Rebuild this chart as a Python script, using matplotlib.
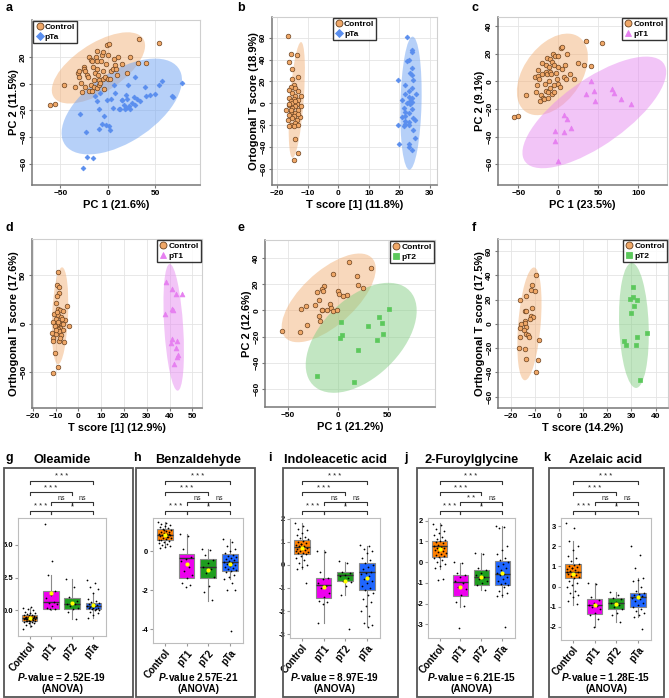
import matplotlib
matplotlib.use('Agg')
import matplotlib.pyplot as plt
import matplotlib.transforms as mtransforms
from matplotlib.patches import Ellipse, Rectangle
from matplotlib.lines import Line2D

plt.rcParams['font.family'] = 'Liberation Sans'
plt.rcParams['font.weight'] = 'bold'
plt.rcParams['mathtext.fontset'] = 'custom'
plt.rcParams['mathtext.it'] = 'Liberation Sans:italic:bold'
plt.rcParams['mathtext.rm'] = 'Liberation Sans:bold'

W, H = 669, 698

# ---------------- score plots data ----------------
# a : PCA Control vs pTa
a_ctrl_x = [-61, -56, -46, -35, -32, -30, -30, -28, -27, -25, -25, -24, -24, -22, -21, -20, -20, -18, -18, -17,
            -17, -16, -15, -15, -14, -13, -12, -12, -11, -11, -10, -9, -9, -8, -7, -6, -5, -5, -5, -4,
            -3, -2, -1, 0, 0, 1, 2, 3, 5, 6, 7, 8, 10, 11, 15, 20, 23, 32, 33, 40, 54]
a_ctrl_y = [-16, -15, -1, -2, 8, 5, 10, 1, -6, 13, 11, 10, -2, 7, 5, -5, 20, 18, -1, 17,
            -5, 13, 3, -2, 8, 20, 11, -3, 17, 25, 7, 3, -1, 1, 17, 22, 10, 4, 24, -4,
            5, 15, 29, 4, 22, 30, 4, 10, 11, 19, 14, 11, 7, 20, 15, 8, 20, 16, 34, 16, 31]
a_pta_x = [-29, -23.5, -22.5, -15.4, -26, -14, -9, -8, -9, -6, -4, -2, 1, 2, -1, 3, 6, 7, 5, 12,
           13, 15, 17, 18, 19, 20, 21, 23, 25, 27, 29, 31, 34, 39, 40, 44, 50, 54, 57, 68,
           69, 78, -12, 15, 19, 22, 28]
a_pta_y = [-23, -36, -55, -56, -63, -9, -19, -7, -34, -30, -24, -31, -32, -35, -12, -11, -1, -7, -18, -19,
           -19, -12, -16, -19, -8, -11, -1, -19, -14, -10, 5, -11, -13, -2, -9, -8, -7.5, -1, 2, -9,
           -10, 1, -13, -12, -18, -17, -16]

# b : OPLS-DA Control vs pTa
b_ctrl_x = [-16.5, -15.5, -13.5, -16, -15, -13, -15, -14.5, -15.5, -14, -16, -13, -15, -14, -12, -16, -14.5, -13,
            -15.5, -14, -15, -13.5, -16, -14, -15, -12, -17, -13, -15.5, -14, -16, -14.5, -12.5, -15, -16.5,
            -13.5, -14, -15.5, -13, -14.5, -16, -14, -13, -14.5, -15.5, -14, -13, -16]
b_ctrl_y = [62, 45, 44, 38, 31, 24, 22, 17, 15, 14, 12, 11, 9, 7, 7, 5, 4, 3,
            2, 1, 0, -1, -2, -3, -4, -3, -6, -6, -8, -9, -11, -12, -13, -14, -15,
            -15, -18, -20, -20, -21, -21, -33, -46, -52, -6, 2, -10, -1]
b_pta_x = [22.5, 24, 24, 23, 22.5, 24, 23.5, 24, 19.5, 24.5, 22, 24, 23, 25.5, 22, 23, 24, 23.5, 21, 24, 22.5,
           23.5, 21.5, 24, 22, 23, 21, 24.5, 25, 22, 23, 19.5, 22, 21.5, 24.5, 23, 25, 20, 23, 23, 24, 22]
b_pta_y = [61, 49, 47, 40, 39, 32, 28, 26, 21, 21, 17, 14, 11, 8, 8, 6, 5, 2, 3, 1, 0,
           -1, -4, -5, -8, -9, -13, -14, -15, -16, -17, -20, -19, -21, -25, -20, -32, -37, -37, -40, -43, -12]

# c : PCA Control vs pT1
c_ctrl_x = [-55, -50, -40, -29, -28, -27, -25, -25, -24, -23, -22, -21, -20, -19, -18, -17, -16, -16, -15, -14,
            -14, -13, -13, -12, -12, -11, -10, -10, -9, -8, -8, -7, -6, -5, -5, -4, -3, -2, -1, 0,
            0, 2, 3, 5, 5, 7, 8, 10, 11, 15, 20, 25, 32, 34, 41, 54]
c_ctrl_y = [-26, -25, -10, 3, -8, -3, 8, 4, 2, -14, -10, 5, 13, -12, -13, -2, 12, 7, -7, 17,
            5, -8, -12, 10, 0, 16, -5, 7, 5, -9, 14, 20, -3, 12, -8, 18, 6, 2, -2, 10,
            18, -4, 24, 25, 9, 3, 12, 2, 20, 5, 2, 13, 12, 29, 11, 28]
c_pt1_x = [41, 35, 44.6, 46, 67, 70, 79, 90.9, 7, 11, 16, -3.7, 7, -4, -1]
c_pt1_y = [0, -9.5, -7, -14, -5.5, -8.7, -12.8, -16.5, -24.5, -27, -34, -36, -37, -43, -58]

# d : OPLS-DA Control vs pT1
d_ctrl_x = [-9.1, -9.4, -8.4, -8.4, -9.5, -9.8, -4.8, -9.1, -8, -6.5, -10.6, -8.8, -7.4, -9.8, -5.8, -10.9,
            -8.4, -9.4, -6.9, -4.3, -10.3, -8, -9.1, -6.5, -11.6, -9.8, -7.7, -10.9, -6.2, -11.3, -8.4,
            -10.1, -8.7, -11, -8.5, -9, -7, -10, -8, -9.5]
d_ctrl_y = [53.8, 40, 37.5, 32, 28.5, 21.5, 18.4, 15.6, 13.9, 13.2, 10.4, 8.7, 7, 4.2, 3.5, 1.7,
            0.7, -0.7, -0.7, -2.8, -2.8, -4.2, -5.9, -6.9, -10.4, -11.1, -12.2, -14.6, -19.1, -18, -18,
            -30.6, -45, -51.4, -8, 2, 5, -7, -15, 12]
d_pt1_x = [38.5, 41.2, 42.7, 45.5, 41.1, 41.4, 38.1, 41, 43.1, 40.5, 42.8, 43.6, 43.3, 41.8]
d_pt1_y = [43.4, 35.8, 30.6, 30.6, 14.9, 13.9, 9.4, -16, -18, -20.8, -25.7, -32.3, -35.4, -42.4]

# e : PCA Control vs pT2
e_ctrl_x = [11.3, 33, -4.3, 19, 20, -13.3, -16, 25, -20.7, -15, 0, 1.3, 9, 5.7, -18.3, -7.7, -22.7, -31.7,
            -36.7, -16, -15.3, -10.3, -6.7, -4.3, -0.7, -18.7, -17.7, -31, -55.3, -37.7]
e_ctrl_y = [37.4, 32.3, 27.9, 26.3, 19.4, 18.6, 16.3, 17.3, 14.2, 15, 15, 12.9, 12.1, 11.1, 7.7, 5.2, 4.6, 3.1,
            1, 0.5, 0.5, 0.5, 1.8, -0.5, 0.5, -3.9, -7.7, -11.1, -15.5, -16.8]
e_pt2_x = [51.7, 41.7, 44, 3.7, 30.7, 45, 4.7, 2.3, 39, 20.7, -20.7, 16.7]
e_pt2_y = [1.3, -5.2, -9.5, -9, -11.9, -17.8, -18.8, -21.2, -22.5, -30.2, -50.6, -55.2]

# f : OPLS-DA Control vs pT2
f_ctrl_x = [-9.4, -11.3, -11.7, -9.9, -13.7, -15.9, -14.2, -13.5, -11, -11.6, -10.8, -12, -14.2, -14.2,
            -15.6, -15.9, -13.5, -14.3, -13.5, -12.7, -12.4, -16.1, -8.1, -16.6, -14.2, -8.8, -13.7, -9.5]
f_ctrl_y = [40.3, 32.3, 28.2, 26.8, 23.3, 19.5, 10.4, 10.4, 12.9, 6.3, 5.5, 3.6, 2.2, 0.8,
            -0.3, -3.8, -2.5, -5.2, -8.2, -9.3, -10.7, -10.7, -13.7, -19.7, -21.1, -29.6, -29.3, -39.5]
f_pt2_x = [30.5, 30.8, 29.2, 32.1, 30.9, 29.9, 36.6, 32.1, 26.9, 27.9, 31.7, 33.7]
f_pt2_y = [30.1, 22.2, 20.5, 20, 14.5, 9, -7.4, -10.7, -14.2, -17, -17.5, -46.3]

# 95% confidence ellipses: centre x, centre y, major, minor, angle
a_ell = {'Control': (-10, 12, 104.8, 39.2, 22), 'pTa': (14.6, -17, 134.4, 56.6, 21.4)}
b_ell = {'Control': (-13.5, 3, 106, 4.5, 88.5), 'pTa': (23.8, 0, 122, 6.9, 89.5)}
c_ell = {'Control': (-7.5, 5, 94, 50.6, 22.5), 'pT1': (45, -22.5, 190, 53, 19.5)}
d_ell = {'Control': (-8, 8, 101, 7, 89), 'pT1': (41.8, -4, 132, 8.3, 91.5)}
e_ell = {'Control': (-9, 9.7, 107, 45.4, 31.7), 'pT2': (23.5, -21, 122.6, 66.6, 30.4)}
f_ell = {'Control': (-12.2, 0, 93, 9.3, 87.7), 'pT2': (31, -1.3, 103, 12.2, 91)}

# ---------------- box plots data ----------------
groups = ['Control', 'pT1', 'pT2', 'pTa']

g_ctrl = [-1.45, -1.2, -1.1, -1.0, -0.95, -0.9, -0.9, -0.85, -0.85, -0.8, -0.8, -0.75, -0.75, -0.7, -0.7, -0.65,
          -0.65, -0.6, -0.6, -0.6, -0.55, -0.55, -0.5, -0.5, -0.45, -0.4, -0.4, -0.35, -0.3, -0.25, -0.2, -0.1,
          0.0, 0.1, 0.2, 0.25, -0.7, -0.5, -0.8, -0.6]
g_pt1 = [6.6, 3.8, 2.7, 1.5, 1.2, 0.9, 0.65, 0.55, 0.5, 0.3, 0.15, 0.1, 0.1]
g_pt2 = [2.35, 1.75, 1.0, 0.7, 0.6, 0.5, 0.45, 0.35, 0.2, 0.1, -0.15, -0.65]
g_pta = [2.3, 2.1, 1.8, 1.6, 1.3, 0.85, 0.7, 0.6, 0.55, 0.5, 0.45, 0.4, 0.35, 0.3, 0.3, 0.25, 0.2, 0.2, 0.15,
         0.1, 0.1, 0.05, 0.0, -0.1, -0.2, -0.35, -0.6]
g_med = [-0.6, 0.6, 0.45, 0.3]
g_q1 = [-0.85, 0.1, 0.1, 0.1]
g_q3 = [-0.35, 1.5, 0.9, 0.55]
g_lo = [-1.3, 0.05, -0.65, -0.6]
g_hi = [0.2, 2.7, 2.35, 1.3]
g_mean = [-0.6, 1.3, 0.55, 0.38]

h_ctrl = [1.5, 1.45, 1.4, 1.35, 1.3, 1.25, 1.2, 1.15, 1.1, 1.05, 1.0, 1.0, 0.95, 0.9, 0.9, 0.85, 0.85, 0.8, 0.8,
          0.75, 0.7, 0.7, 0.65, 0.6, 0.55, 0.5, 0.45, 0.4, 0.35, 0.3, 0.25, 0.2, 0.9, 1.1, 0.6, 0.75]
h_pt1 = [0.9, 0.8, 0.1, -0.3, -0.4, -0.5, -0.8, -1.0, -1.2, -1.35, -1.6, -1.75, -1.85]
h_pt2 = [0.1, 0.05, -0.2, -0.45, -0.6, -0.8, -0.9, -1.1, -1.3, -1.8, -2.1, -2.5]
h_pta = [0.65, 0.5, 0.3, 0.15, 0.0, -0.1, -0.2, -0.25, -0.3, -0.35, -0.4, -0.45, -0.5, -0.55, -0.6, -0.65, -0.7,
         -0.75, -0.8, -0.85, -0.9, -0.95, -1.0, -1.05, -1.2, -1.3, -1.4, -1.6, -2.0, -2.0, -4.1]
h_med = [0.86, -0.34, -0.81, -0.55]
h_q1 = [0.6, -1.38, -1.38, -1.0]
h_q3 = [1.16, -0.14, -0.4, -0.14]
h_lo = [0.26, -1.38, -2.53, -1.43]
h_hi = [1.5, 0.9, 0.12, 0.64]
h_mean = [0.86, -0.64, -0.95, -0.64]

i_ctrl = [1.8, 1.7, 1.55, 1.5, 1.4, 1.3, 1.2, 1.15, 1.1, 1.05, 1.0, 0.95, 0.9, 0.85, 0.8, 0.8, 0.75, 0.7, 0.7,
          0.65, 0.6, 0.55, 0.5, 0.5, 0.45, 0.4, 0.3, 0.2, 0.1, 0.0, -0.1, -0.2, -0.8, 0.9, 0.6]
i_pt1 = [0.6, 0.55, -0.3, -0.55, -0.6, -0.8, -0.9, -1.0, -1.2, -1.4, -1.55, -1.6, -1.7, -2.5]
i_pt2 = [0.15, 0.1, -0.3, -0.35, -0.45, -0.5, -0.55, -0.7, -0.75, -0.9, -1.3, -2.8]
i_pta = [0.85, 0.8, 0.7, 0.6, 0.5, 0.3, 0.2, 0.1, 0.0, -0.1, -0.2, -0.3, -0.35, -0.4, -0.5, -0.6, -0.7, -0.8,
         -0.9, -1.0, -1.1, -1.2, -1.3, -1.5, -1.6, -1.8, -2.0, -2.2, -2.5, -2.6, -2.7]
i_med = [0.79, -0.87, -0.46, -0.33]
i_q1 = [0.46, -1.45, -0.69, -1.08]
i_q3 = [1.08, -0.58, -0.33, 0.07]
i_lo = [-0.19, -2.53, -1.3, -2.67]
i_hi = [1.83, 0.65, 0.13, 0.8]
i_mean = [0.72, -0.94, -0.72, -0.58]

j_ctrl = [1.85, 1.8, 1.6, 1.5, 1.4, 1.3, 1.2, 1.1, 1.05, 1.0, 0.95, 0.9, 0.85, 0.8, 0.75, 0.7, 0.7, 0.65, 0.6,
          0.55, 0.5, 0.45, 0.4, 0.35, 0.3, 0.25, 0.2, 0.1, 0.0, -0.1, -0.2, -0.3, -0.8, -0.85]
j_pt1 = [0.0, -0.05, -0.5, -0.6, -0.7, -0.9, -1.0, -1.2, -1.3, -1.6, -1.9, -2.1, -3.2]
j_pt2 = [0.45, 0.4, -0.3, -0.4, -0.5, -0.6, -0.7, -0.8, -0.9, -1.0, -1.1, -1.35]
j_pta = [1.75, 1.7, 1.65, 0.8, 0.6, 0.4, 0.2, 0.1, 0.0, -0.1, -0.2, -0.3, -0.4, -0.5, -0.55, -0.6, -0.7, -0.8,
         -0.9, -1.0, -1.05, -1.1, -1.2, -1.4, -1.5, -1.6, -1.65, -3.15]
j_med = [0.76, -0.94, -0.7, -0.58]
j_q1 = [0.23, -1.63, -1.1, -1.1]
j_q3 = [1.0, -0.61, -0.37, 0.06]
j_lo = [-0.32, -2.15, -1.34, -1.67]
j_hi = [1.89, -0.05, 0.44, 1.76]
j_mean = [0.65, -1.18, -0.7, -0.5]

k_ctrl = [3.15, 2.9, 2.25, 2.0, 1.8, 1.5, 1.4, 1.25, 1.1, 1.05, 1.0, 0.95, 0.9, 0.85, 0.8, 0.75, 0.7, 0.65, 0.6,
          0.55, 0.5, 0.45, 0.4, 0.3, 0.2, 0.1, 0.0, -0.2, -0.3, -0.4, -0.5, -0.7, -0.85, 0.9, 0.7]
k_pt1 = [0.2, 0.15, -0.5, -0.65, -0.8, -0.9, -0.95, -1.0, -1.1, -1.3, -1.4, -1.6, -2.0]
k_pt2 = [-0.25, -0.4, -0.55, -0.6, -0.75, -0.8, -0.9, -1.0, -1.1, -1.3, -1.4, -1.75]
k_pta = [2.0, 1.55, 0.9, 0.4, 0.35, 0.3, 0.0, -0.2, -0.3, -0.35, -0.4, -0.45, -0.5, -0.55, -0.6, -0.7, -0.8,
         -0.9, -1.0, -1.1, -1.2, -1.3, -1.4, -1.5, -2.1]
k_med = [0.7, -0.92, -0.83, -0.53]
k_q1 = [0.42, -1.38, -1.12, -1.0]
k_q3 = [1.12, -0.63, -0.55, -0.33]
k_lo = [-0.92, -2.0, -1.75, -1.5]
k_hi = [2.25, 0.17, -0.28, 0.42]
k_mean = [0.63, -0.92, -0.87, -0.5]

# significance labels: Ctrl-pTa, Ctrl-pT2, pT1-pT2, pT2-pTa, Ctrl-pT1, pT1-pTa
sig_default = ['* * *', '* * *', 'ns', 'ns', '* * *', '*']
sig_j = ['* * *', '* * *', '* *', 'ns', '* * *', '*']

STYLE = {
    'Control': dict(marker='o', face='#F0A868', edge='#6B4220', s=11, ell='#F2B27A'),
    'pTa': dict(marker='D', face='#5A8EEE', edge='#5A8EEE', s=6, ell='#6FA3F2'),
    'pT1': dict(marker='^', face='#E680F0', edge='#E680F0', s=12, ell='#E68CF0'),
    'pT2': dict(marker='s', face='#5CC85C', edge='#5CC85C', s=7, ell='#86CF86'),
}
BOX_COL = ['#FF8000', '#EE00EE', '#1F9E1F', '#1F66FF']

fig = plt.figure(figsize=(W / 100, H / 100), dpi=100)


def px_axes(x1, y1, x2, y2):
    return fig.add_axes([x1 / W, 1 - y2 / H, (x2 - x1) / W, (y2 - y1) / H])


def letter(x, y, s):
    fig.text(x / W, 1 - y / H, s, fontsize=9, fontweight='bold', va='top', ha='left')


def scatter_panel(box, lab, lxy, xlim, ylim, xticks, yticks, xlabel, ylabel, data, ells, loc):
    ax = px_axes(*box)
    for name, xs, ys in data:
        cx, cy, wd, ht, ang = ells[name]
        ax.add_patch(Ellipse((cx, cy), wd, ht, angle=ang, facecolor=STYLE[name]['ell'],
                             edgecolor='none', alpha=0.5, zorder=1))
    handles = []
    for name, xs, ys in data:
        st = STYLE[name]
        ax.scatter(xs, ys, s=st['s'], marker=st['marker'], facecolor=st['face'],
                   edgecolor=st['edge'], linewidths=0.5, zorder=3)
        handles.append(Line2D([], [], ls='none', marker=st['marker'], markersize=5 if name == 'Control' else 4.5,
                              markerfacecolor=st['face'], markeredgecolor=st['edge'], markeredgewidth=0.6,
                              label=name))
    ax.set_xlim(*xlim)
    ax.set_ylim(*ylim)
    ax.set_xticks(xticks)
    ax.set_yticks(yticks)
    ax.tick_params(labelsize=6, length=2, color='#777', pad=1.5)
    for t in ax.get_yticklabels():
        t.set_rotation(90)
        t.set_va('center')
    for t in ax.get_xticklabels() + ax.get_yticklabels():
        t.set_fontweight('bold')
    ax.grid(True, color='#e4e4e4', lw=0.6, zorder=0)
    ax.set_axisbelow(True)
    for side in ['top', 'right']:
        ax.spines[side].set_color('#cfcfcf')
    for side in ['left', 'bottom']:
        ax.spines[side].set_color('#777')
        ax.spines[side].set_linewidth(1.1)
    ax.set_xlabel(xlabel, fontsize=8, fontweight='bold', labelpad=2)
    ax.set_ylabel(ylabel, fontsize=8, fontweight='bold', labelpad=1)
    leg = ax.legend(handles=handles, loc=loc, fontsize=6, frameon=True, fancybox=False,
                    edgecolor='black', borderaxespad=0.15, handletextpad=0.1, labelspacing=0.25,
                    borderpad=0.25, handlelength=1.0, prop={'weight': 'bold', 'size': 6})
    leg.get_frame().set_linewidth(1.0)
    letter(*lxy, lab)
    return ax


scatter_panel((32, 20, 200, 185), 'a', (6, 2), (-80, 97), (-76, 48), [-50, 0, 50], [-60, -40, -20, 0, 20],
              'PC 1 (21.6%)', 'PC 2 (11.5%)',
              [('Control', a_ctrl_x, a_ctrl_y), ('pTa', a_pta_x, a_pta_y)], a_ell, 'upper left')
scatter_panel((272, 17, 437, 185), 'b', (237, 2), (-21.6, 32.3), (-75, 79), [-20, -10, 0, 10, 20, 30],
              [-60, -40, -20, 0, 20, 40, 60], 'T score [1] (11.8%)', 'Ortogonal T score (18.9%)',
              [('Control', b_ctrl_x, b_ctrl_y), ('pTa', b_pta_x, b_pta_y)], b_ell, 'upper center')
scatter_panel((498, 17, 667, 185), 'c', (472, 2), (-75.6, 136), (-75, 46.5), [-50, 0, 50, 100],
              [-60, -40, -20, 0, 20, 40], 'PC 1 (23.5%)', 'PC 2 (9.1%)',
              [('Control', c_ctrl_x, c_ctrl_y), ('pT1', c_pt1_x, c_pt1_y)], c_ell, 'upper right')
scatter_panel((32, 239, 202, 408), 'd', (6, 222), (-20.3, 54.2), (-88, 88), [-20, -10, 0, 10, 20, 30, 40, 50],
              [-50, 0, 50], 'T score [1] (12.9%)', 'Orthogonal T score (17.6%)',
              [('Control', d_ctrl_x, d_ctrl_y), ('pT1', d_pt1_x, d_pt1_y)], d_ell, 'upper right')
scatter_panel((265, 240, 435, 407), 'e', (237, 222), (-72.7, 97.3), (-74.2, 54.2), [-50, 0, 50],
              [-60, -40, -20, 0, 20, 40], 'PC 1 (21.2%)', 'PC 2 (12.6%)',
              [('Control', e_ctrl_x, e_ctrl_y), ('pT2', e_pt2_x, e_pt2_y)], e_ell, 'upper right')
scatter_panel((498, 239, 668, 408), 'f', (472, 222), (-25.2, 45.1), (-69.3, 69.9), [-20, -10, 0, 10, 20, 30, 40],
              [-60, -40, -20, 0, 20, 40, 60], 'T score (14.2%)', 'Orthogonal T score (17.5%)',
              [('Control', f_ctrl_x, f_ctrl_y), ('pT2', f_pt2_x, f_pt2_y)], f_ell, 'upper right')


def box_panel(frame, inner, lab, lx, title, ylim, yticks, yticklabels, vals, med, q1, q3, lo, hi, mean,
              sig, pval):
    fx1, fy1, fx2, fy2 = frame
    fig.patches.append(Rectangle((fx1 / W, 1 - fy2 / H), (fx2 - fx1) / W, (fy2 - fy1) / H,
                                 transform=fig.transFigure, fill=False, edgecolor='#555', lw=1.3))
    ax = px_axes(*inner)
    stats = []
    for n in range(4):
        stats.append(dict(med=med[n], q1=q1[n], q3=q3[n], whislo=lo[n], whishi=hi[n], mean=mean[n],
                          fliers=[], label=groups[n]))
    bp = ax.bxp(stats, positions=[1, 2, 3, 4], widths=0.72, patch_artist=True, showmeans=True,
                showfliers=False,
                boxprops=dict(edgecolor='#8a8a8a', lw=0.8),
                whiskerprops=dict(color='#8a8a8a', lw=0.8),
                capprops=dict(color='none'),
                medianprops=dict(color='#333333', lw=1.0),
                meanprops=dict(marker='o', markerfacecolor='#FFFF00', markeredgecolor='none',
                               markersize=3))
    for patch, col in zip(bp['boxes'], BOX_COL):
        patch.set_facecolor(col)
    for m in bp['means']:
        m.set_zorder(5)
    for n, v in enumerate(vals):
        xs = [n + 1 + ((k * 0.6180339) % 1.0 - 0.5) * 0.6 for k in range(len(v))]
        ax.scatter(xs, v, s=1.6, color='black', zorder=4, linewidths=0)
    ax.set_xlim(0.45, 4.6)
    ax.set_ylim(*ylim)
    ax.set_yticks(yticks)
    ax.set_yticklabels(yticklabels, fontsize=5.5, fontweight='bold')
    ax.set_xticks([1, 2, 3, 4])
    ax.set_xticklabels(groups, rotation=50, ha='right', rotation_mode='anchor', fontsize=7,
                       fontweight='bold')
    ax.tick_params(length=2, color='#999', pad=1.5)
    for s in ax.spines.values():
        s.set_color('#bdbdbd')
        s.set_linewidth(0.8)
    # significance brackets
    tr = mtransforms.blended_transform_factory(ax.transData, fig.transFigure)
    rows = [(1, 4, 481), (1, 3, 492), (2, 3, 502), (3, 4, 502), (1, 2, 511), (2, 4, 511)]
    for (x1, x2, yp), s in zip(rows, sig):
        ax.plot([x1, x1, x2, x2], [1 - (yp + 3) / H, 1 - yp / H, 1 - yp / H, 1 - (yp + 3) / H],
                transform=tr, clip_on=False, color='#333', lw=0.8)
        ax.text((x1 + x2) / 2, 1 - (yp - 0.5) / H, s, transform=tr, ha='center', va='bottom',
                fontsize=5 if 'n' in s else 5.5, fontweight='normal', color='#222')
    cx = (inner[0] + inner[2]) / 2
    fig.text(cx / W, 1 - 460 / H, title, ha='center', va='center', fontsize=9.2, fontweight='bold')
    fig.text(cx / W, 1 - 677 / H, pval, ha='center', va='center', fontsize=7.2, fontweight='bold')
    fig.text(cx / W, 1 - 689 / H, '(ANOVA)', ha='center', va='center', fontsize=7.2, fontweight='bold')
    letter(lx, 452, lab)


box_panel((4, 468, 133, 697), (18, 518, 106, 636), 'g', 6, 'Oleamide', (-1.97, 7.05), [0, 2.5, 5.0],
          ['0.0', '2.5', '5.0'], [g_ctrl, g_pt1, g_pt2, g_pta], g_med, g_q1, g_q3, g_lo, g_hi, g_mean,
          sig_default, r'$P$-value = 2.52E-19')
box_panel((136, 468, 255, 697), (153, 518, 243, 643), 'h', 133, 'Benzaldehyde', (-4.71, 1.72), [-4, -2, 0],
          ['-4', '-2', '0'], [h_ctrl, h_pt1, h_pt2, h_pta], h_med, h_q1, h_q3, h_lo, h_hi, h_mean,
          sig_default, r'$P$-value 2.57E-21')
box_panel((283, 468, 398, 697), (290, 518, 380, 638), 'i', 268, 'Indoleacetic acid', (-3.17, 2.03),
          [-3, -2, -1, 0, 1, 2], ['-3', '-2', '-1', '0', '1', '2'], [i_ctrl, i_pt1, i_pt2, i_pta],
          i_med, i_q1, i_q3, i_lo, i_hi, i_mean, sig_default, r'$P$-value = 8.97E-19')
box_panel((417, 468, 533, 697), (428, 518, 515, 638), 'j', 404, '2-Furoylglycine', (-3.66, 2.13),
          [-3, -2, -1, 0, 1, 2], ['-3', '-2', '-1', '0', '1', '2'], [j_ctrl, j_pt1, j_pt2, j_pta],
          j_med, j_q1, j_q3, j_lo, j_hi, j_mean, sig_j, r'$P$-value = 6.21E-15')
box_panel((549, 468, 664, 697), (561, 518, 651, 640), 'k', 543, 'Azelaic acid', (-2.67, 3.42),
          [-2, -1, 0, 1, 2, 3], ['-2', '-1', '0', '1', '2', '3'], [k_ctrl, k_pt1, k_pt2, k_pta],
          k_med, k_q1, k_q3, k_lo, k_hi, k_mean, sig_default, r'$P$-value = 1.28E-15')

fig.savefig('out.png', dpi=100)
